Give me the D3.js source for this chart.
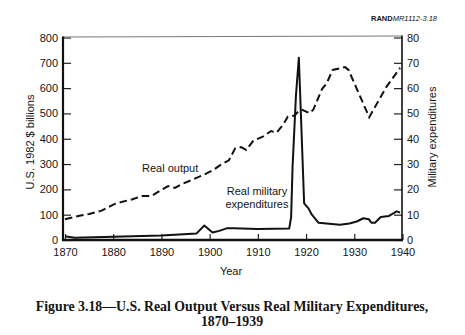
<!DOCTYPE html>
<html>
<head>
<meta charset="utf-8">
<script src="https://cdn.jsdelivr.net/npm/d3@7"></script>
<style>
  html, body { margin: 0; padding: 0; background: #fff; }
  svg { display: block; }
  text { font-family: "Liberation Sans", Arial, Helvetica, sans-serif; fill: #151515; }
</style>
</head>
<body>
<svg id="chart" width="465" height="335"></svg>
<script>
// ---- Data ----
const outputYears = [1870, 1873, 1875, 1877.5, 1880, 1881, 1884, 1886, 1888, 1890, 1891.4, 1892.8, 1894.2, 1896.3, 1898.7, 1900.8, 1902.2, 1904, 1905.3, 1906.5, 1907.6, 1909.1, 1911, 1912.7, 1913.9, 1915.4, 1916.2, 1917.6, 1918.5, 1919.2, 1920.7, 1921.5, 1923.3, 1924.3, 1925.5, 1928.1, 1928.8, 1933.1, 1936.7, 1939.5];
const outputValues = [82, 96, 103, 115, 140, 147, 161, 174, 174, 198, 213, 206, 221, 237, 257, 277, 296, 315, 362, 367, 356, 393, 408, 430, 424, 460, 487, 492, 510, 514, 501, 515, 596, 620, 672, 683, 672, 485, 606, 680];

const militaryYears = [1870, 1872, 1880, 1890, 1897.3, 1898.9, 1900.6, 1902, 1903.5, 1905, 1910, 1916.5, 1916.9, 1917.2, 1917.9, 1918.5, 1919.6, 1920.5, 1921.2, 1922.6, 1927, 1929, 1930.5, 1931.9, 1933, 1933.6, 1934.3, 1935.5, 1937.2, 1938.8, 1939.5];
const militaryValues = [1.5, 0.9, 1.3, 1.8, 2.6, 5.7, 3.0, 3.6, 4.6, 4.6, 4.3, 4.5, 9, 29, 57, 72, 14.5, 12.5, 10, 6.8, 6.0, 6.5, 7.3, 8.6, 8.2, 6.8, 6.8, 9.1, 9.5, 11.3, 10.8];

const yearTicks = [1870, 1880, 1890, 1900, 1910, 1920, 1930, 1940];
const leftTicks = [0, 100, 200, 300, 400, 500, 600, 700, 800];
const rightTicks = [0, 10, 20, 30, 40, 50, 60, 70, 80];

// ---- Layout ----
const svg = d3.select("#chart");
const L = 63, R = 402, T = 37.5, B = 240;

const x = d3.scaleLinear().domain([1870, 1940]).range([65, 402.5]);
const yL = d3.scaleLinear().domain([0, 800]).range([B, T]);
const yR = d3.scaleLinear().domain([0, 80]).range([B, T]);

// Axes (ticks pointing inward)
const gLeft = svg.append("g").attr("transform", `translate(${L},0)`)
  .call(d3.axisLeft(yL).tickValues(leftTicks).tickSizeInner(-8).tickSizeOuter(0).tickPadding(5));
const gRight = svg.append("g").attr("transform", `translate(${R},0)`)
  .call(d3.axisRight(yR).tickValues(rightTicks).tickSizeInner(-8).tickSizeOuter(0).tickPadding(5));
const gBottom = svg.append("g").attr("transform", `translate(0,${B})`)
  .call(d3.axisBottom(x).tickValues(yearTicks).tickFormat(d3.format("d")).tickSizeInner(-6).tickSizeOuter(0).tickPadding(8));

[gLeft, gRight, gBottom].forEach(g => {
  g.select(".domain").remove();
  g.selectAll(".tick line").attr("stroke", "#222").attr("stroke-width", 1.2);
  g.selectAll(".tick text").style("font-size", "11px").style("font-family", "Liberation Sans, Arial, sans-serif").attr("fill", "#151515");
});

// Frame lines
svg.append("line").attr("x1", L).attr("x2", R).attr("y1", T - 0.5).attr("y2", T - 1.5)
  .attr("stroke", "#7a7a7a").attr("stroke-width", 1.2);
svg.append("line").attr("x1", R).attr("x2", R).attr("y1", T - 2).attr("y2", B)
  .attr("stroke", "#111").attr("stroke-width", 1.6);
svg.append("line").attr("x1", L).attr("x2", L).attr("y1", T - 1).attr("y2", B + 1)
  .attr("stroke", "#111").attr("stroke-width", 2.2);
svg.append("line").attr("x1", L - 1).attr("x2", R + 1).attr("y1", B).attr("y2", B)
  .attr("stroke", "#111").attr("stroke-width", 2.6);

// Series
const outputData = outputYears.map((yr, i) => ({ yr, v: outputValues[i] }));
const militaryData = militaryYears.map((yr, i) => ({ yr, v: militaryValues[i] }));

svg.append("path").datum(outputData)
  .attr("fill", "none").attr("stroke", "#111").attr("stroke-width", 2)
  .attr("stroke-dasharray", "7.5,4")
  .attr("d", d3.line().x(d => x(d.yr)).y(d => yL(d.v)));

svg.append("path").datum(militaryData)
  .attr("fill", "none").attr("stroke", "#111").attr("stroke-width", 2)
  .attr("stroke-linejoin", "round")
  .attr("d", d3.line().x(d => x(d.yr)).y(d => yR(d.v)));

// Series labels
svg.append("text").attr("x", 142).attr("y", 172).style("font-size", "11px").text("Real output");
svg.append("text").attr("x", 257).attr("y", 195).attr("text-anchor", "middle").style("font-size", "11px").text("Real military");
svg.append("text").attr("x", 257).attr("y", 207.5).attr("text-anchor", "middle").style("font-size", "11px").text("expenditures");

// Axis titles
svg.append("text").attr("transform", "translate(34,142) rotate(-90)").attr("text-anchor", "middle")
  .style("font-size", "11px").text("U.S. 1982 $ billions");
svg.append("text").attr("transform", "translate(436,137) rotate(-90)").attr("text-anchor", "middle")
  .style("font-size", "11px").text("Military expenditures");
svg.append("text").attr("x", 231).attr("y", 275).attr("text-anchor", "middle")
  .style("font-size", "11px").text("Year");

// RAND id
const rid = svg.append("text").attr("x", 437).attr("y", 21).attr("text-anchor", "end").style("font-size", "7.5px");
rid.append("tspan").style("font-weight", "bold").text("RAND");
rid.append("tspan").style("font-style", "italic").text("MR1112-3.18");

// Caption
const cap = svg.append("text").attr("text-anchor", "middle")
  .style("font-family", "'Liberation Serif', 'Times New Roman', serif").style("font-weight", "bold").style("font-size", "13.8px");
cap.append("tspan").attr("x", 232).attr("y", 311).text("Figure 3.18—U.S. Real Output Versus Real Military Expenditures,");
cap.append("tspan").attr("x", 232).attr("y", 325.5).text("1870–1939");
</script>
</body>
</html>
